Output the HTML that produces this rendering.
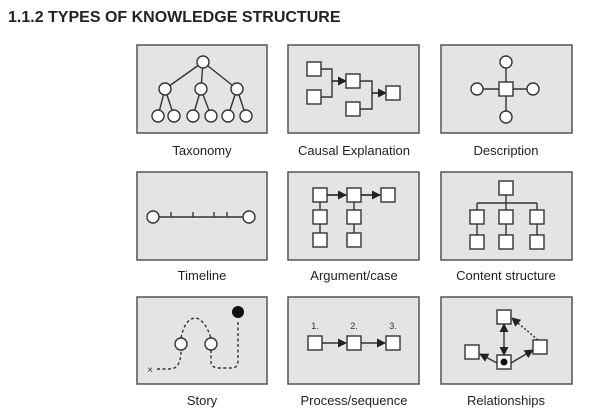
<!DOCTYPE html>
<html><head><meta charset="utf-8"><style>
html,body{margin:0;padding:0;background:#fff;width:598px;height:419px;overflow:hidden}
svg{display:block}
</style></head><body>
<svg width="598" height="419" viewBox="0 0 598 419" xmlns="http://www.w3.org/2000/svg" font-family="Liberation Sans, sans-serif">
<defs>
<marker id="a" viewBox="0 0 10 10" refX="9" refY="5" markerWidth="6.5" markerHeight="6.5" orient="auto-start-reverse"><path d="M0,0L10,5L0,10z" fill="#222"/></marker>
</defs>
<text x="8" y="22" font-size="16" font-weight="bold" fill="#222">1.1.2 TYPES OF KNOWLEDGE STRUCTURE</text>
<g fill="#e4e4e7" stroke="#555" stroke-width="1.5">
<rect x="137" y="45" width="130" height="88"/><rect x="288" y="45" width="131" height="88"/><rect x="441" y="45" width="131" height="88"/>
<rect x="137" y="172" width="130" height="88"/><rect x="288" y="172" width="131" height="88"/><rect x="441" y="172" width="131" height="88"/>
<rect x="137" y="297" width="130" height="87"/><rect x="288" y="297" width="131" height="87"/><rect x="441" y="297" width="131" height="87"/>
</g>
<g font-size="13" fill="#222" text-anchor="middle">
<text x="202" y="155">Taxonomy</text><text x="354" y="155">Causal Explanation</text><text x="506" y="155">Description</text>
<text x="202" y="280">Timeline</text><text x="354" y="280">Argument/case</text><text x="506" y="280">Content structure</text>
<text x="202" y="405">Story</text><text x="354" y="405">Process/sequence</text><text x="506" y="405">Relationships</text>
</g>
<g stroke="#333" stroke-width="1.4" fill="none">
<path d="M203,62L165,89M203,62L201,89M203,62L237,89M165,89L158,116M165,89L174,116M201,89L193,116M201,89L211,116M237,89L228,116M237,89L246,116"/>
<path d="M321,69H332V97H321M332,81H345M360,81H372V109H360M372,93H385"/>
<path d="M332,81H346" marker-end="url(#a)"/><path d="M372,93H386" marker-end="url(#a)"/>
<path d="M506,62V117M477,89H533"/>
<path d="M153,217H249M171,217v-5M193,217v-5M214,217v-5M227,217v-5"/>
<path d="M327,195H346M361,195H380M320,202V233M354,202V233" />
<path d="M327,195H346" marker-end="url(#a)"/><path d="M361,195H380" marker-end="url(#a)"/>
<path d="M506,195V210M477,203H537M477,203V210M537,203V210M477,224V235M506,224V235M537,224V235"/>
<path stroke-dasharray="3,2.5" d="M157,369H170Q181,369 181,350M181,338Q185,318 196,318Q205,320 211,338M211,350V362Q211,368 220,368H232Q238,368 238,360V320"/>
<path d="M322,343H346" marker-end="url(#a)"/><path d="M361,343H385" marker-end="url(#a)"/>
<path d="M504,355V324" marker-end="url(#a)" marker-start="url(#a)"/>
<path d="M497,363L480,354" marker-end="url(#a)"/>
<path d="M511,363L533,350" marker-end="url(#a)"/>
<path d="M538,340L512,318" stroke-dasharray="2,2" marker-end="url(#a)"/>
</g>
<g fill="#fff" stroke="#333" stroke-width="1.4">
<circle cx="203" cy="62" r="6"/><circle cx="165" cy="89" r="6"/><circle cx="201" cy="89" r="6"/><circle cx="237" cy="89" r="6"/>
<circle cx="158" cy="116" r="6"/><circle cx="174" cy="116" r="6"/><circle cx="193" cy="116" r="6"/><circle cx="211" cy="116" r="6"/><circle cx="228" cy="116" r="6"/><circle cx="246" cy="116" r="6"/>
<rect x="307" y="62" width="14" height="14"/><rect x="307" y="90" width="14" height="14"/><rect x="346" y="74" width="14" height="14"/><rect x="346" y="102" width="14" height="14"/><rect x="386" y="86" width="14" height="14"/>
<rect x="499" y="82" width="14" height="14"/><circle cx="506" cy="62" r="6"/><circle cx="506" cy="117" r="6"/><circle cx="477" cy="89" r="6"/><circle cx="533" cy="89" r="6"/>
<circle cx="153" cy="217" r="6"/><circle cx="249" cy="217" r="6"/>
<rect x="313" y="188" width="14" height="14"/><rect x="347" y="188" width="14" height="14"/><rect x="381" y="188" width="14" height="14"/>
<rect x="313" y="210" width="14" height="14"/><rect x="347" y="210" width="14" height="14"/><rect x="313" y="233" width="14" height="14"/><rect x="347" y="233" width="14" height="14"/>
<rect x="499" y="181" width="14" height="14"/>
<rect x="470" y="210" width="14" height="14"/><rect x="499" y="210" width="14" height="14"/><rect x="530" y="210" width="14" height="14"/>
<rect x="470" y="235" width="14" height="14"/><rect x="499" y="235" width="14" height="14"/><rect x="530" y="235" width="14" height="14"/>
<circle cx="181" cy="344" r="6"/><circle cx="211" cy="344" r="6"/>
<rect x="308" y="336" width="14" height="14"/><rect x="347" y="336" width="14" height="14"/><rect x="386" y="336" width="14" height="14"/>
<rect x="497" y="310" width="14" height="14"/><rect x="497" y="355" width="14" height="14"/><rect x="465" y="345" width="14" height="14"/><rect x="533" y="340" width="14" height="14"/>
</g>
<circle cx="238" cy="312" r="6" fill="#111"/>
<circle cx="504" cy="362" r="3.5" fill="#111"/>
<text x="150" y="373" font-size="10" fill="#333" text-anchor="middle">×</text>
<g font-size="9" fill="#333" text-anchor="middle"><text x="315" y="329">1.</text><text x="354" y="329">2.</text><text x="393" y="329">3.</text></g>
</svg>
</body></html>
